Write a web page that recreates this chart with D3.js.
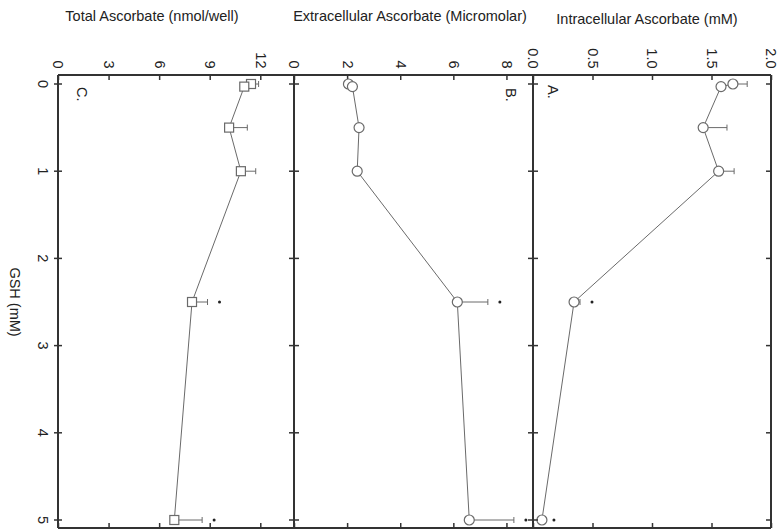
<!DOCTYPE html>
<html>
<head>
<meta charset="utf-8">
<script src="https://cdn.jsdelivr.net/npm/d3@7"></script>
<style>
body{margin:0;background:#fff;}
text{font-family:"Liberation Sans",Arial,sans-serif;fill:#222;}
</style>
</head>
<body>
<div id="chart"></div>
<script>
(function(){

// GSH concentration (mM)
const gsh = [0, 0.03, 0.5, 1, 2.5, 5];
const gshTicks = [0, 1, 2, 3, 4, 5];

// A. intracellular ascorbate (mM)
const intraMean = [1.68, 1.58, 1.43, 1.56, 0.345, 0.075];
const intraErr  = [0.12, 0, 0.2, 0.13, 0.05, 0];
// B. extracellular ascorbate (micromolar)
const extraMean = [2.05, 2.2, 2.45, 2.38, 6.15, 6.6];
const extraErr  = [0.15, 0, 0, 0, 1.15, 1.68];
// C. total ascorbate (nmol/well)
const totalMean = [11.45, 11.05, 10.15, 10.85, 7.95, 6.9];
const totalErr  = [0.45, 0, 1.08, 0.88, 0.92, 1.65];
// significance marks
const signif = [false, false, false, false, true, true];

const intraTicks = [0, 0.5, 1, 1.5, 2];
const extraTicks = [0, 2, 4, 6, 8];
const totalTicks = [0, 3, 6, 9, 12];

const width = 781, height = 529;
const top = 75, bottom = 528;

const svg = d3.select("#chart").append("svg")
.attr("width",width).attr("height",height);

const y = d3.scaleLinear().domain([0,5]).range([84,520]);

const panels = [
{key:"C", mean:totalMean, err:totalErr, ticks:totalTicks, fmt:d3.format("d"),
 x:d3.scaleLinear().domain([0,14]).range([58,294]), marker:"square",
 title:"Total Ascorbate (nmol/well)", tx:152, ty:21, lx:82, ly:87},
{key:"B", mean:extraMean, err:extraErr, ticks:extraTicks, fmt:d3.format("d"),
 x:d3.scaleLinear().domain([0,9]).range([294,533]), marker:"circle",
 title:"Extracellular Ascorbate (Micromolar)", tx:410, ty:21, lx:511, ly:88},
{key:"A", mean:intraMean, err:intraErr, ticks:intraTicks, fmt:d3.format(".1f"),
 x:d3.scaleLinear().domain([0,2]).range([533,771]), marker:"circle",
 title:"Intracellular Ascorbate (mM)", tx:647, ty:24, lx:553, ly:85}
];

const grey = "#6a6a6a";

panels.forEach(p=>{
const g = svg.append("g");
const x = p.x;
const data = gsh.map((v,i)=>({g:v, m:p.mean[i], e:p.err[i], s:signif[i]}));

// value ticks at top (inward) with rotated labels
const ax = g.append("g").attr("transform",`translate(0,${top})`)
.call(d3.axisTop(x).tickValues(p.ticks).tickSize(-5).tickFormat(p.fmt));
ax.select(".domain").remove();
ax.selectAll("line").attr("stroke","#333").attr("stroke-width",1.5);
ax.selectAll("text")
.attr("x",null).attr("y",null)
.attr("transform","translate(0,-6.5) rotate(90)")
.attr("text-anchor","end")
.attr("dy","0.35em")
.attr("font-size","14.5px")
.attr("fill","#222");

// value ticks at bottom (inward)
const bx = g.append("g").attr("transform",`translate(0,${bottom})`)
.call(d3.axisBottom(x).tickValues(p.ticks).tickSize(-5).tickFormat(""));
bx.select(".domain").remove();
bx.selectAll("line").attr("stroke","#333").attr("stroke-width",1.5);

// connecting line
g.append("path").datum(data)
.attr("fill","none").attr("stroke",grey).attr("stroke-width",1)
.attr("d",d3.line().x(d=>x(d.m)).y(d=>y(d.g)));

// error bars
const eb = g.selectAll(".eb").data(data.filter(d=>d.e>0)).join("g");
eb.append("line")
.attr("x1",d=>x(d.m)).attr("x2",d=>x(d.m+d.e))
.attr("y1",d=>y(d.g)).attr("y2",d=>y(d.g))
.attr("stroke",grey).attr("stroke-width",1);
eb.append("line")
.attr("x1",d=>x(d.m+d.e)).attr("x2",d=>x(d.m+d.e))
.attr("y1",d=>y(d.g)-3).attr("y2",d=>y(d.g)+3)
.attr("stroke",grey).attr("stroke-width",1);

// markers
if(p.marker==="circle"){
g.selectAll(".pt").data(data).join("circle")
.attr("cx",d=>x(d.m)).attr("cy",d=>y(d.g)).attr("r",5)
.attr("fill","#fff").attr("stroke",grey).attr("stroke-width",1.2);
}else{
g.selectAll(".pt").data(data).join("rect")
.attr("x",d=>x(d.m)-4.5).attr("y",d=>y(d.g)-4.5)
.attr("width",9).attr("height",9)
.attr("fill","#fff").attr("stroke",grey).attr("stroke-width",1.2);
}

// significance marks
g.selectAll(".sig").data(data.filter(d=>d.s)).join("circle")
.attr("cx",d=>x(d.m+d.e)+12).attr("cy",d=>y(d.g)).attr("r",1.5)
.attr("fill","#222");

// panel title
svg.append("text")
.attr("x",p.tx).attr("y",p.ty)
.attr("text-anchor","middle")
.attr("font-size","14.5px")
.text(p.title);

// panel letter
svg.append("text")
.attr("transform",`translate(${p.lx},${p.ly}) rotate(90)`)
.attr("dy","0.35em")
.attr("font-size","14.5px")
.text(p.key+".");
});

// frame
const frame = svg.append("g").attr("stroke","#333").attr("stroke-width",2).attr("fill","none");
frame.append("line").attr("x1",58).attr("x2",771).attr("y1",top).attr("y2",top);
frame.append("line").attr("x1",58).attr("x2",771).attr("y1",bottom).attr("y2",bottom);
[58,294,533,771].forEach(bx=>{
frame.append("line").attr("x1",bx).attr("x2",bx).attr("y1",top).attr("y2",bottom);
});

// GSH ticks on each border
const tk = svg.append("g").attr("stroke","#333").attr("stroke-width",1.5);
[[58,-4,4],[294,-5,5],[533,-5,5],[771,-5,0]].forEach(([bx,a,b])=>{
tk.selectAll(null).data(gshTicks).join("line")
.attr("x1",bx+a).attr("x2",bx+b)
.attr("y1",d=>y(d)).attr("y2",d=>y(d));
});

// GSH tick labels
svg.selectAll(".gl").data(gshTicks).join("text")
.attr("transform",d=>`translate(43,${y(d)}) rotate(90)`)
.attr("text-anchor","middle")
.attr("dy","0.35em")
.attr("font-size","14.5px")
.text(d=>d);

// GSH axis title
svg.append("text")
.attr("transform",`translate(15,${y(2.5)}) rotate(90)`)
.attr("text-anchor","middle")
.attr("dy","0.35em")
.attr("font-size","14.5px")
.text("GSH (mM)");

})();
</script>
</body>
</html>
